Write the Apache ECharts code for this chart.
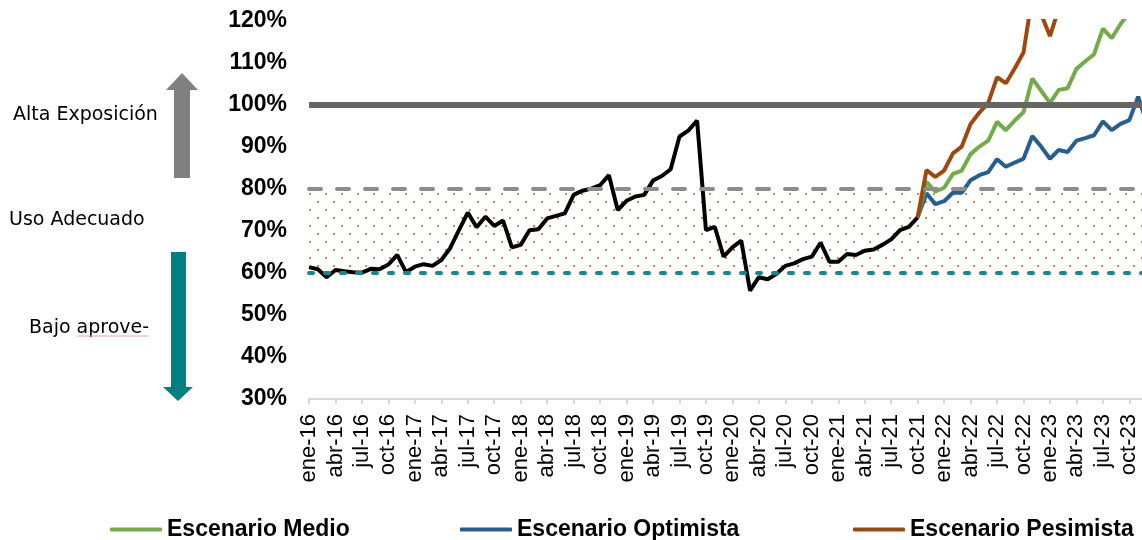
<!DOCTYPE html>
<html>
<head>
<meta charset="utf-8">
<script src="https://cdn.jsdelivr.net/npm/echarts@6/dist/echarts.min.js"></script>
<style>
  html, body { margin: 0; padding: 0; background: #fff; }
  #chart { width: 1142px; height: 540px; }
</style>
</head>
<body>
<div id="chart"></div>
<script>
// meses del eje (etiqueta cada 3 meses)
const meses = ["ene", "feb", "mar", "abr", "may", "jun", "jul", "ago", "sep", "oct", "nov", "dic"];
const anios = ["16", "17", "18", "19", "20", "21", "22", "23"];

// uso historico ene-16 .. oct-21
const historico = [
  61.4, 60.9, 59.0, 60.7, 60.4, 60.2, 60.1, 61.0, 60.9, 62.0, 64.3, 60.2,
  61.5, 62.1, 61.7, 63.1, 65.9, 70.2, 74.4, 70.9, 73.4, 71.2, 72.5, 66.1,
  66.7, 70.2, 70.4, 73.0, 73.6, 74.2, 78.6, 79.6, 80.1, 80.9, 83.3, 75.0,
  77.2, 78.2, 78.6, 82.0, 83.1, 84.7, 92.5, 93.9, 96.3, 70.2, 71.0, 63.9,
  66.1, 67.7, 55.8, 59.0, 58.5, 59.8, 61.7, 62.3, 63.3, 63.9, 67.2, 62.7,
  62.7, 64.5, 64.3, 65.3, 65.6, 66.7, 68.0, 70.2, 71.0, 73.26
];

// escenarios oct-21 .. dic-23
const medio = [
  73.26, 81.7, 79.4, 80.3, 83.6, 84.4, 88.3, 90.1, 91.5, 96.0, 94.0, 96.3, 98.3,
  106.3, 103.4, 100.5, 103.6, 104.0, 108.6, 110.4, 112.1, 118.2, 115.9, 119.3,
  122.0, 125.5, 127.0
];
const optimista = [
  73.26, 79.0, 76.4, 77.1, 79.1, 79.1, 82.1, 83.3, 84.0, 87.1, 85.3, 86.3, 87.2,
  92.6, 90.1, 87.2, 89.3, 88.8, 91.5, 92.1, 92.8, 96.1, 94.0, 95.5, 96.4,
  102.0, 95.5
];
const pesimista = [
  73.26, 84.5, 82.9, 84.4, 88.5, 90.1, 95.5, 98.2, 100.5, 106.6, 105.2, 108.7,
  112.5, 126.0, 121.6, 116.4, 123.0, 125.0, 128.0, 127.0, 131.0, 133.0, 132.0,
  136.0, 138.0, 137.0, 141.0
];

const categorias = [];
anios.forEach(a => meses.forEach(m => categorias.push(m + "-" + a)));

const inicio = historico.length - 1;
const pad = arr => new Array(inicio).fill(null).concat(arr);

const serieHist = historico.map((v, i) =>
  i === historico.length - 1
    ? {
        value: v,
        symbol: "circle",
        symbolSize: 1,
        itemStyle: { opacity: 0 },
        label: {
          show: true,
          position: "left",
          distance: 0,
          offset: [3, -13],
          fontSize: 21,
          color: "#1a1a1a",
          fontFamily: "Liberation Sans, Arial",
          formatter: p => p.value.toFixed(2).replace(".", ",") + "%"
        }
      }
    : v
);

// trama de puntos naranjas para la zona de uso adecuado
const tile = document.createElement("canvas");
tile.width = 16;
tile.height = 16;
const tctx = tile.getContext("2d");
tctx.fillStyle = "#ED7D31";
tctx.fillRect(5, 1, 2, 2);
tctx.fillRect(13, 9, 2, 2);

const font = "Liberation Sans, Arial, sans-serif";
const legendBase = {
  top: 513,
  icon: "roundRect",
  itemWidth: 52,
  itemHeight: 4,
  selectedMode: false,
  textStyle: { fontSize: 23, fontWeight: "bold", color: "#000", fontFamily: font }
};

const chart = echarts.init(document.getElementById("chart"));
chart.setOption({
  animation: false,
  grid: { left: 309, right: -5, top: 21, bottom: 141, outerBoundsMode: "none" },
  legend: [
    Object.assign({ left: 105, data: ["Escenario Medio"] }, legendBase),
    Object.assign({ left: 455, data: ["Escenario Optimista"] }, legendBase),
    Object.assign({ left: 848, data: ["Escenario Pesimista"] }, legendBase)
  ],
  xAxis: {
    type: "category",
    data: categorias,
    boundaryGap: false,
    axisLine: { lineStyle: { color: "#d9d9d9", width: 2 } },
    axisTick: { interval: 2, length: 5, lineStyle: { color: "#d9d9d9", width: 2 } },
    axisLabel: {
      interval: 2,
      rotate: 90,
      margin: 15,
      fontSize: 22,
      color: "#000",
      fontFamily: font
    }
  },
  yAxis: {
    type: "value",
    min: 30,
    max: 120,
    interval: 10,
    splitLine: { show: false },
    axisLine: { show: false },
    axisTick: { show: false },
    axisLabel: {
      formatter: "{value}%",
      margin: 22,
      fontSize: 23,
      fontWeight: "bold",
      color: "#000",
      fontFamily: font
    }
  },
  series: [
    {
      name: "Histórico",
      type: "line",
      data: serieHist,
      symbol: "none",
      lineStyle: { color: "#000", width: 4 },
      markArea: {
        silent: true,
        itemStyle: { color: { image: tile, repeat: "repeat" } },
        data: [[{ yAxis: 60 }, { yAxis: 80 }]]
      },
      markLine: {
        silent: true,
        symbol: ["none", "none"],
        label: { show: false },
        data: [
          { yAxis: 100, lineStyle: { color: "#666666", width: 6, type: "solid" } },
          { yAxis: 80, lineStyle: { color: "#8c8c8c", width: 4, type: [12, 16], cap: "round" } },
          { yAxis: 60, lineStyle: { color: "#138a8a", width: 4, type: [4, 12], cap: "round" } }
        ]
      }
    },
    {
      name: "Escenario Optimista",
      type: "line",
      data: pad(optimista),
      symbol: "none",
      itemStyle: { color: "#255E91" },
      lineStyle: { color: "#255E91", width: 4 }
    },
    {
      name: "Escenario Medio",
      type: "line",
      data: pad(medio),
      symbol: "none",
      itemStyle: { color: "#70AD47" },
      lineStyle: { color: "#70AD47", width: 4 }
    },
    {
      name: "Escenario Pesimista",
      type: "line",
      data: pad(pesimista),
      symbol: "none",
      itemStyle: { color: "#9E480E" },
      lineStyle: { color: "#9E480E", width: 4 }
    }
  ],
  graphic: [
    {
      type: "polygon",
      shape: { points: [[174, 178], [174, 90], [166, 90], [182, 73], [198, 90], [190, 90], [190, 178]] },
      style: { fill: "#808080" }
    },
    {
      type: "polygon",
      shape: { points: [[171, 252], [186, 252], [186, 387], [193, 387], [178, 401], [163, 387], [171, 387]] },
      style: { fill: "#008080" }
    },
    {
      type: "text",
      x: 13, y: 115,
      style: { text: "Alta Exposición", font: "19px DejaVu Sans", fill: "#000", verticalAlign: "middle" }
    },
    {
      type: "text",
      x: 9, y: 220,
      style: { text: "Uso Adecuado", font: "19px DejaVu Sans", fill: "#000", verticalAlign: "middle" }
    },
    {
      type: "text",
      x: 29, y: 328,
      style: { text: "Bajo aprove-", font: "19px DejaVu Sans", fill: "#000", verticalAlign: "middle" }
    },
    {
      type: "line",
      shape: { x1: 77, y1: 336, x2: 149, y2: 336 },
      style: { stroke: "#f2a0a0", lineWidth: 1 }
    }
  ]
});
</script>
</body>
</html>
